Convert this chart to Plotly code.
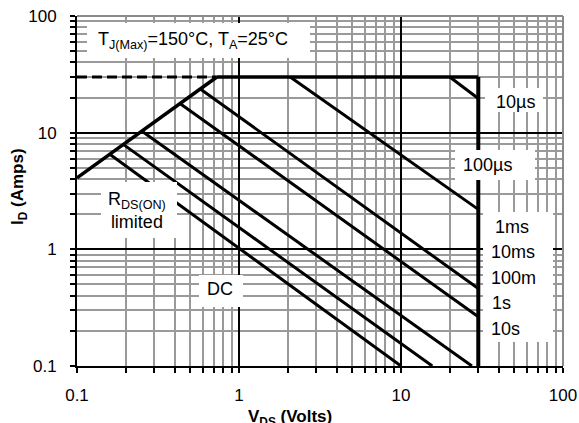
import plotly.graph_objects as go

# ---------------- data ----------------
v_rds = [0.1, 0.73]
i_rds = [4.1, 30]
v_lim = [0.1, 0.73]
i_lim = [30, 30]
v_top = [0.73, 30]
i_top = [30, 30]
v_vmax = [30, 30]
i_vmax = [30, 0.1]
v_10us = [20, 30]
i_10us = [30, 19.6]
v_100us = [2.07, 30]
i_100us = [30, 2.2]
v_1ms = [0.577, 30]
i_1ms = [23.7, 0.461]
v_10ms = [0.434, 30]
i_10ms = [17.7, 0.264]
v_100ms = [0.252, 27.4]
i_100ms = [10.3, 0.1]
v_1s = [0.194, 15.6]
i_1s = [7.9, 0.1]
v_dc = [0.16, 10]
i_dc = [6.5, 0.1]

tick_vals = [0.1, 1, 10, 100]
tick_text = ["0.1", "1", "10", "100"]
minor_vals = [m * d for d in (0.1, 1, 10) for m in (2, 3, 4, 5, 6, 7, 8, 9)]

# ---------------- layout helpers ----------------
W_FIG, H_FIG = 579, 423
L, R, T, B = 77, 16, 16, 57
PW, PH = W_FIG - L - R, H_FIG - T - B


def px(x):
    return (x - L) / PW


def py(y):
    return (PH + T - y) / PH


FONT = "Liberation Sans, Arial, sans-serif"

fig = go.Figure()


def add_line(v, i, width=3, dash="solid"):
    fig.add_trace(go.Scatter(x=v, y=i, mode="lines",
                             line=dict(color="black", width=width, dash=dash),
                             hoverinfo="skip", showlegend=False))


add_line(v_lim, i_lim, 3, "10px,5px")
add_line(v_rds, i_rds, 3.5)
add_line(v_top, i_top, 3.5)
add_line(v_vmax, i_vmax, 4)
add_line(v_10us, i_10us, 3)
add_line(v_100us, i_100us, 3)
add_line(v_1ms, i_1ms, 3)
add_line(v_10ms, i_10ms, 3)
add_line(v_100ms, i_100ms, 3)
add_line(v_1s, i_1s, 3)
add_line(v_dc, i_dc, 3)

axis_common = dict(
    type="log",
    automargin=False,
    tickmode="array", tickvals=tick_vals, ticktext=tick_text,
    ticks="outside", ticklen=5, tickwidth=1.5, tickcolor="black",
    showline=True, linecolor="black", linewidth=2,
    showgrid=True, gridcolor="black", gridwidth=1.6,
    zeroline=False,
    tickfont=dict(family=FONT, size=17, color="black"),
    minor=dict(tickmode="array", tickvals=minor_vals, ticks="outside",
               ticklen=5, tickwidth=1.5, tickcolor="black",
               showgrid=True, gridcolor="#9a9a9a", gridwidth=2),
)

fig.update_layout(
    width=W_FIG, height=H_FIG,
    margin=dict(l=L, r=R, t=T, b=B, pad=0, autoexpand=False),
    paper_bgcolor="white", plot_bgcolor="white",
    xaxis=dict(range=[-1, 2], ticklabelstandoff=8, **axis_common),
    yaxis=dict(range=[-1, 2], ticklabelstandoff=10, **axis_common),
    showlegend=False,
)

# gray frame on top and right
fig.add_shape(type="line", xref="paper", yref="paper", x0=0, x1=1, y0=1, y1=1,
              line=dict(color="#8a8a8a", width=2), layer="above")
fig.add_shape(type="line", xref="paper", yref="paper", x0=1, x1=1, y0=0, y1=1,
              line=dict(color="#8a8a8a", width=2), layer="above")

# white label backgrounds (pixel boxes)
boxes = [
    (87, 23, 310, 58),     # T_J
    (485, 88, 543, 112),   # 10us
    (455, 150, 535, 180),  # 100us
    (483, 212, 553, 342),  # right column
    (199, 275, 243, 307),  # DC
    (101, 182, 177, 238),  # Rds
]
for x0, y0, x1, y1 in boxes:
    fig.add_shape(type="rect", xref="paper", yref="paper",
                  x0=px(x0), x1=px(x1), y0=py(y1), y1=py(y0),
                  fillcolor="white", line=dict(width=0), layer="above")


def label(text, x, y, xanchor="center", size=18, angle=0):
    fig.add_annotation(text=text, xref="paper", yref="paper",
                       x=px(x), y=py(y), xanchor=xanchor, yanchor="middle",
                       showarrow=False, borderpad=0, textangle=angle,
                       font=dict(family=FONT, size=size, color="black"))


label("T<sub>J(Max)</sub>=150°C, T<sub>A</sub>=25°C", 193, 40)
label("10µs", 515, 101.5)
label("100µs", 487, 165)
label("1ms", 511.7, 226.7)
label("10ms", 513.3, 251.7)
label("100m", 513.7, 277.5)
label("1s", 501.7, 303)
label("10s", 505, 329)
label("DC", 220, 289)
label("R<sub>DS(ON)</sub><br>limited", 137, 210)
label("<b>V<sub>DS</sub> (Volts)</b>", 290, 418, size=17)
label("<b>I<sub>D</sub> (Amps)</b>", 19, 187, size=17, angle=-90)

fig.write_html(
    "out.html",
    config={"displayModeBar": False},
    post_script="document.body.style.margin='0';document.body.style.padding='0';"
                "document.body.style.overflow='hidden';",
)
